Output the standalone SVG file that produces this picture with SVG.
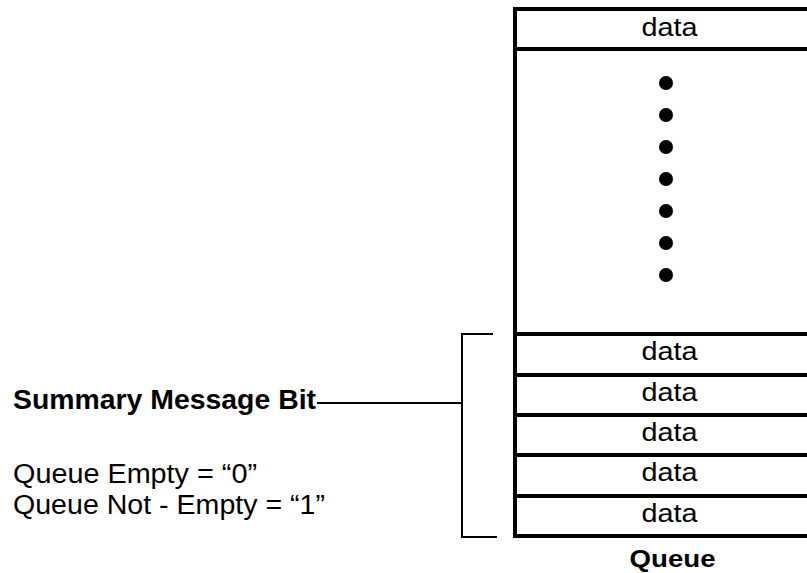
<svg xmlns="http://www.w3.org/2000/svg" width="807" height="573" viewBox="0 0 807 573">
<style>
.t{font-family:"Liberation Sans",Arial,sans-serif;fill:#000}
.d{font-size:25px;text-anchor:middle}
.lb{font-size:27px}
.cell{fill:#fff;stroke:#000;stroke-width:4}
.sep{stroke:#000;stroke-width:4}
.ln{fill:none;stroke:#000;stroke-width:2}
</style>
<rect width="807" height="573" fill="#fff"/>
<g id="queue">
<rect class="cell" x="515" y="9" width="310" height="527"/>
<line class="sep" x1="515" y1="49" x2="825" y2="49"/>
<line class="sep" x1="515" y1="334" x2="825" y2="334"/>
<line class="sep" x1="515" y1="375" x2="825" y2="375"/>
<line class="sep" x1="515" y1="415" x2="825" y2="415"/>
<line class="sep" x1="515" y1="455" x2="825" y2="455"/>
<line class="sep" x1="515" y1="496" x2="825" y2="496"/>
<text class="t d" x="669.5" y="36" textLength="56" lengthAdjust="spacingAndGlyphs">data</text>
<text class="t d" x="669.5" y="360" textLength="56" lengthAdjust="spacingAndGlyphs">data</text>
<text class="t d" x="669.5" y="401" textLength="56" lengthAdjust="spacingAndGlyphs">data</text>
<text class="t d" x="669.5" y="441" textLength="56" lengthAdjust="spacingAndGlyphs">data</text>
<text class="t d" x="669.5" y="481" textLength="56" lengthAdjust="spacingAndGlyphs">data</text>
<text class="t d" x="669.5" y="522" textLength="56" lengthAdjust="spacingAndGlyphs">data</text>
<g fill="#000">
<circle cx="666" cy="83" r="7"/>
<circle cx="666" cy="115" r="7"/>
<circle cx="666" cy="147" r="7"/>
<circle cx="666" cy="179" r="7"/>
<circle cx="666" cy="211" r="7"/>
<circle cx="666" cy="243" r="7"/>
<circle cx="666" cy="275" r="7"/>
</g>
<text class="t" x="672.5" y="567" font-size="24" font-weight="bold" text-anchor="middle" textLength="86" lengthAdjust="spacingAndGlyphs">Queue</text>
</g>
<g id="labels">
<text class="t lb" x="13" y="409" font-weight="bold" textLength="303" lengthAdjust="spacingAndGlyphs">Summary Message Bit</text>
<text class="t lb" x="13" y="483" textLength="244" lengthAdjust="spacingAndGlyphs">Queue Empty = “0”</text>
<text class="t lb" x="13" y="514" textLength="312" lengthAdjust="spacingAndGlyphs">Queue Not - Empty = “1”</text>
</g>
<g id="connectors">
<polyline class="ln" points="493,334 462,334 462,537 497,537"/>
<line class="ln" x1="317" y1="403" x2="462" y2="403"/>
</g>
</svg>
